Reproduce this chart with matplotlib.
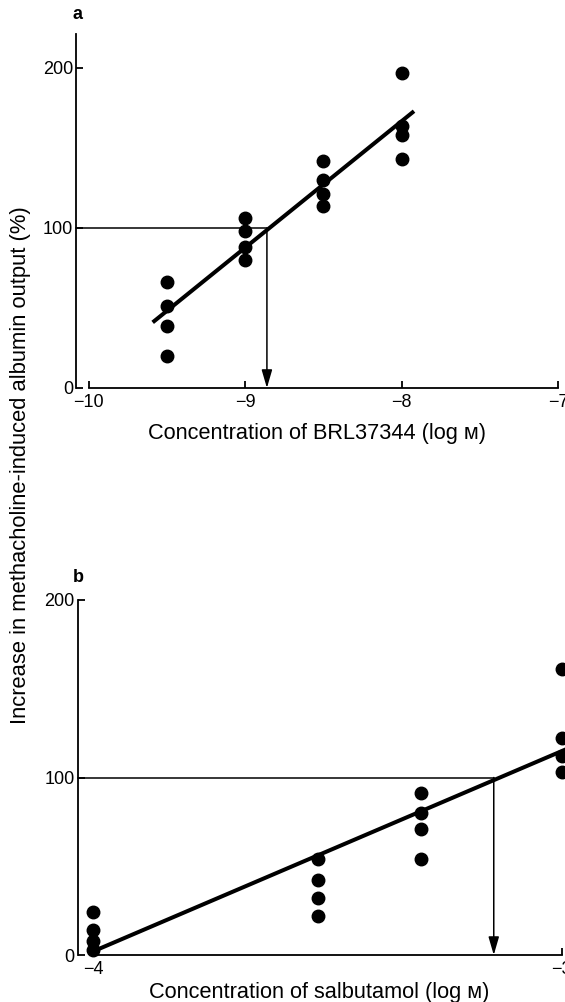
import matplotlib
matplotlib.use("Agg")
import matplotlib.pyplot as plt

plt.rcParams['font.family'] = ['Liberation Sans', 'DejaVu Sans']

# panel a: BRL37344
brl_conc = [-9.5, -9.0, -8.5, -8.0]
brl_vals = [[66, 51, 39, 20],
            [106, 98, 88, 80],
            [142, 130, 121, 114],
            [197, 164, 158, 143]]
brl_fit_x = [-9.59, -7.92]
brl_fit_y = [41, 173]
brl_arrow_x = -8.86
brl_xticks = [-10, -9, -8, -7]

# panel b: salbutamol
sal_conc = [-4.0, -3.52, -3.30, -3.0]
sal_vals = [[24, 14, 8, 3],
            [54, 42, 32, 22],
            [91, 80, 71, 54],
            [161, 122, 112, 103]]
sal_fit_x = [-4.0, -2.99]
sal_fit_y = [2, 116]
sal_arrow_x = -3.145
sal_xticks = [-4, -3]

yticks = [0, 100, 200]

fig = plt.figure(figsize=(5.65, 10.02), dpi=100)

ax_a = fig.add_axes([0.1345, 0.6128, 0.8531, 0.3529])
ax_b = fig.add_axes([0.1372, 0.0469, 0.857, 0.3543])


def style(ax, xlim, ylim, xticks, xbounds, ytop):
    ax.set_xlim(*xlim)
    ax.set_ylim(*ylim)
    for s in ['top', 'right']:
        ax.spines[s].set_visible(False)
    ax.spines['left'].set_bounds(0, ytop)
    ax.spines['bottom'].set_bounds(*xbounds)
    for s in ['left', 'bottom']:
        ax.spines[s].set_linewidth(1.3)
    ax.set_xticks(xticks)
    ax.set_yticks(yticks)
    ax.tick_params(direction='in', length=5, width=1.3, labelsize=13, pad=4)
    ax.tick_params(axis='y', pad=2)


def panel(ax, conc, vals, fit_x, fit_y, arrow_x):
    for c, vs in zip(conc, vals):
        ax.plot([c] * len(vs), vs, 'o', color='black', ms=9, clip_on=False, zorder=3)
    ax.plot(fit_x, fit_y, color='black', lw=2.9, solid_capstyle='butt', clip_on=False, zorder=4)
    ax.plot([ax.get_xlim()[0], arrow_x], [100, 100], color='black', lw=1.1, clip_on=False)
    ax.annotate('', xy=(arrow_x, 0), xytext=(arrow_x, 100),
                arrowprops=dict(arrowstyle='-|>,head_length=1.1,head_width=0.32',
                                color='black', lw=1.1, shrinkA=0, shrinkB=0))


style(ax_a, (-10.08, -7.0), (0, 221), brl_xticks, (-10, -7), 221)
panel(ax_a, brl_conc, brl_vals, brl_fit_x, brl_fit_y, brl_arrow_x)
ax_a.set_xlabel('Concentration of BRL37344 (log м)', fontsize=15.7, labelpad=9)

style(ax_b, (-4.033, -3.0), (0, 200), sal_xticks, (-4, -3), 200)
panel(ax_b, sal_conc, sal_vals, sal_fit_x, sal_fit_y, sal_arrow_x)
ax_b.set_xlabel('Concentration of salbutamol (log м)', fontsize=15.7, labelpad=3)

fig.text(0.128, 0.986, 'a', fontsize=13, fontweight='bold', ha='left', va='center')
fig.text(0.128, 0.424, 'b', fontsize=13, fontweight='bold', ha='left', va='center')

fig.text(0.036, 0.536, 'Increase in methacholine-induced albumin output (%)',
         rotation=90, fontsize=15.8, ha='center', va='center')

fig.savefig('out.png', dpi=100)
